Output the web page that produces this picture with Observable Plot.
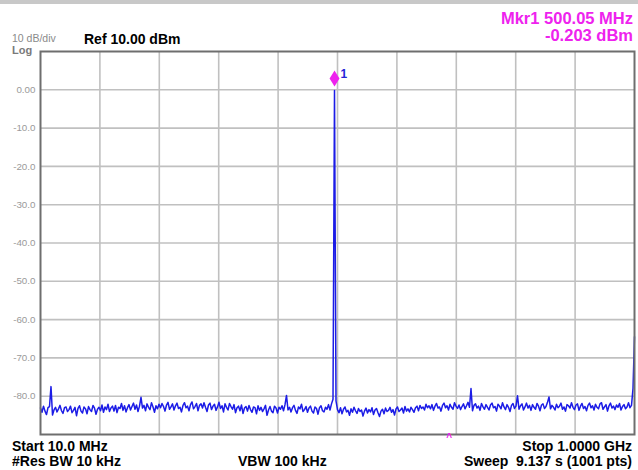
<!DOCTYPE html>
<html><head><meta charset="utf-8">
<script src="https://cdn.jsdelivr.net/npm/d3@7"></script>
<script src="https://cdn.jsdelivr.net/npm/@observablehq/plot@0.6"></script>
<style>
body{margin:0;background:#fff;font-family:"Liberation Sans",Arial,sans-serif;}
#bar{height:4px;background:#c8c8c8;width:638px}
#chart{width:638px;height:466px}
</style></head><body>
<div id="bar"></div><div id="chart"></div>
<script>
// Sweep settings
const startMHz = 10, stopMHz = 1000, points = 397;
// Trace levels (dBm)
const levels = [
-83.1,-84.2,-82.6,-83.9,-84.8,-83.0,-82.7,-77.5,-84.9,-83.6,-82.9,-84.1,-83.3,-82.4,-83.8,-84.5,-83.0,-82.8,-84.0,-83.5,
-82.6,-84.3,-83.7,-82.9,-85.1,-83.2,-82.5,-83.9,-84.4,-82.8,-83.3,-84.6,-82.7,-83.5,-84.0,-82.4,-83.1,-84.7,-83.4,-82.9,
-83.8,-82.3,-84.2,-82.8,-83.5,-82.1,-84.0,-83.1,-82.6,-83.9,-82.4,-84.3,-82.9,-83.2,-81.9,-83.7,-82.5,-84.1,-83.0,-82.2,
-83.6,-82.7,-81.8,-83.4,-82.3,-84.0,-82.6,-80.3,-83.1,-82.4,-83.8,-82.0,-82.9,-83.5,-81.7,-82.8,-84.2,-82.5,-83.3,-82.1,
-83.0,-81.9,-82.7,-83.9,-82.3,-81.6,-83.4,-82.8,-82.0,-83.6,-82.5,-81.8,-83.2,-82.9,-84.1,-82.4,-81.7,-83.0,-82.6,-83.8,
-82.2,-81.5,-83.3,-82.7,-81.9,-83.8,-82.4,-82.0,-83.1,-81.7,-82.9,-84.0,-82.3,-81.8,-83.5,-82.6,-82.1,-83.7,-82.8,-81.6,
-83.2,-82.5,-84.1,-82.0,-82.9,-83.6,-81.9,-82.7,-83.4,-82.2,-84.3,-83.0,-82.6,-83.8,-82.3,-84.5,-83.1,-82.7,-83.9,-82.4,
-83.5,-84.2,-82.8,-83.0,-84.6,-82.5,-83.7,-82.9,-84.0,-83.3,-82.4,-85.0,-83.6,-82.7,-83.9,-84.3,-82.6,-83.1,-84.4,-82.9,
-83.4,-82.5,-83.8,-82.2,-79.8,-83.6,-82.9,-84.1,-83.0,-82.4,-83.7,-84.5,-82.8,-83.3,-82.1,-84.0,-83.5,-82.7,-84.2,-83.1,
-82.6,-83.9,-84.4,-82.8,-83.2,-84.7,-83.0,-82.5,-83.8,-84.1,-82.9,-83.4,-82.2,-83.6,-82.0,-80.8,-0.2,-81.2,-83.5,-84.3,
-83.0,-84.6,-83.4,-82.8,-84.1,-83.7,-85.0,-83.3,-84.2,-82.9,-83.8,-84.5,-83.2,-84.0,-83.6,-85.2,-83.9,-83.1,-84.4,-83.5,
-84.1,-83.0,-84.8,-83.6,-83.2,-84.3,-85.3,-83.9,-83.4,-84.6,-83.1,-84.0,-83.7,-82.9,-84.2,-83.5,-84.9,-83.3,-82.8,-84.0,
-83.6,-83.1,-84.4,-82.7,-83.9,-83.3,-84.1,-82.9,-83.5,-84.2,-83.0,-82.6,-83.8,-82.4,-83.2,-82.8,-83.6,-82.1,-83.0,-82.5,
-83.3,-82.2,-83.7,-82.6,-81.9,-83.1,-82.8,-83.9,-82.4,-81.8,-83.0,-82.5,-83.6,-82.1,-82.9,-83.4,-81.7,-82.6,-83.2,-82.3,
-83.5,-82.7,-82.0,-83.3,-82.5,-81.6,-82.9,-78.0,-83.8,-82.4,-82.0,-83.1,-82.6,-83.7,-81.9,-82.8,-83.4,-82.2,-82.9,-83.6,
-82.3,-81.8,-83.0,-82.7,-83.9,-82.1,-82.6,-83.3,-81.7,-82.8,-83.5,-82.2,-82.9,-84.0,-82.4,-81.9,-83.2,-82.6,-79.9,-83.4,
-82.5,-82.0,-83.6,-82.8,-81.8,-83.1,-82.4,-83.7,-82.2,-82.9,-83.4,-81.9,-82.6,-83.8,-82.3,-82.0,-83.2,-82.7,-81.6,-80.2,
-83.3,-82.4,-82.9,-83.6,-82.1,-83.0,-82.6,-81.8,-83.4,-82.8,-83.9,-82.2,-82.5,-83.1,-81.7,-82.9,-83.5,-82.3,-82.0,-83.7,
-82.6,-81.9,-83.2,-82.7,-83.8,-82.4,-81.8,-83.0,-82.5,-83.6,-82.1,-82.9,-83.3,-82.0,-81.7,-83.4,-82.8,-82.2,-83.9,-82.5,
-81.8,-83.1,-82.6,-83.5,-82.3,-82.9,-81.9,-83.6,-82.7,-82.2,-83.3,-82.8,-81.7,-83.0,-82.4,-78.0,-64.5
];
// Y axis ticks and labels
const yTicks = [0, -10, -20, -30, -40, -50, -60, -70, -80];
const yTickLabels = ["0.00", "-10.0", "-20.0", "-30.0", "-40.0", "-50.0", "-60.0", "-70.0", "-80.0"];
const yDomain = [-90, 10];
// Marker
const markerNames = ["1"];
const markerFreqs = [500.05];
const markerLevels = [-0.203];
const caretFreqs = [691];
// Annotation texts
const topLeftScale = "10 dB/div";
const topLeftMode = "Log";
const refText = "Ref 10.00 dBm";
const startText = "Start 10.0 MHz";
const stopText = "Stop 1.0000 GHz";
const rbwText = "#Res BW 10 kHz";
const vbwText = "VBW 100 kHz";
const sweepText = "Sweep  9.137 s (1001 pts)";

const step = (stopMHz - startMHz) / (points - 1);
const trace = levels.map((v, i) => ({f: startMHz + i * step, v}));
const markers = markerNames.map((n, i) => ({name: n, f: markerFreqs[i], v: markerLevels[i]}));
const xGrid = d3.range(1, 10).map(k => startMHz + k * (stopMHz - startMHz) / 10);

const tallDiamond = {
  draw(ctx, size) {
    const s = Math.sqrt(size / Math.PI);
    const w = s * 0.62;
    ctx.moveTo(0, -s); ctx.lineTo(w, 0); ctx.lineTo(0, s); ctx.lineTo(-w, 0); ctx.closePath();
  }
};

const magenta = "#ee22ee";
const chart = Plot.plot({
  width: 638, height: 466,
  marginTop: 47, marginBottom: 36, marginLeft: 40, marginRight: 4,
  x: {domain: [startMHz, stopMHz], axis: null},
  y: {domain: yDomain},
  style: {fontFamily: "'Liberation Sans', Arial, sans-serif", background: "#fff", overflow: "visible"},
  marks: [
    Plot.gridX(xGrid, {stroke: "#c0c0c0", strokeOpacity: 1, strokeWidth: 1.6}),
    Plot.gridY(yTicks, {stroke: "#c0c0c0", strokeOpacity: 1, strokeWidth: 1.6}),
    Plot.axisY(yTicks, {tickSize: 0, tickPadding: 5, tickFormat: d => yTickLabels[yTicks.indexOf(d)], fill: "#9a9a9a", fontSize: 9.8, label: null}),
    Plot.line(trace, {x: "f", y: "v", stroke: "#1c1ce6", strokeWidth: 1.5}),
    Plot.frame({stroke: "#6e6e6e", strokeWidth: 2}),
    Plot.dot(markers, {x: "f", y: "v", symbol: tallDiamond, r: 8, fill: magenta, stroke: "none", dy: -12}),
    Plot.text(markers, {x: "f", y: "v", text: "name", dx: 6, dy: -16, textAnchor: "start", fill: "#2424d8", fontWeight: "bold", fontSize: 12}),
    Plot.text(caretFreqs, {x: d => d, frameAnchor: "bottom", text: () => "^", dy: 6, fill: magenta, fontSize: 10, fontWeight: "bold"})
  ]
});
document.getElementById("chart").appendChild(chart);

const svg = d3.select(chart);
function label(txt, x, y, opts) {
  const t = svg.append("text").attr("x", x).attr("y", y).text(txt)
    .attr("font-family", "'Liberation Sans', Arial, sans-serif")
    .attr("font-size", opts.size).attr("font-weight", opts.bold ? "bold" : "normal")
    .attr("fill", opts.fill || "#000").attr("text-anchor", opts.anchor || "start")
    .style("white-space", "pre");
  return t;
}
label(topLeftScale, 12, 37.5, {size: 10.5, fill: "#8a8a8a"});
label(topLeftMode, 12, 50, {size: 11, bold: true, fill: "#7a7a7a"});
label(refText, 84, 40, {size: 14, bold: true});
label(`Mkr${markerNames[0]} ${markerFreqs[0].toFixed(2)} MHz`, 633, 20, {size: 16.5, bold: true, fill: magenta, anchor: "end"});
label(`${markerLevels[0].toFixed(3)} dBm`, 633, 37, {size: 16.5, bold: true, fill: magenta, anchor: "end"});
label(startText, 12, 447, {size: 14, bold: true});
label(rbwText, 12, 462, {size: 14, bold: true});
label(vbwText, 238, 462, {size: 14, bold: true});
label(stopText, 632, 447, {size: 14, bold: true, anchor: "end"});
label(sweepText, 632, 462, {size: 14, bold: true, anchor: "end"});
</script>
</body></html>
